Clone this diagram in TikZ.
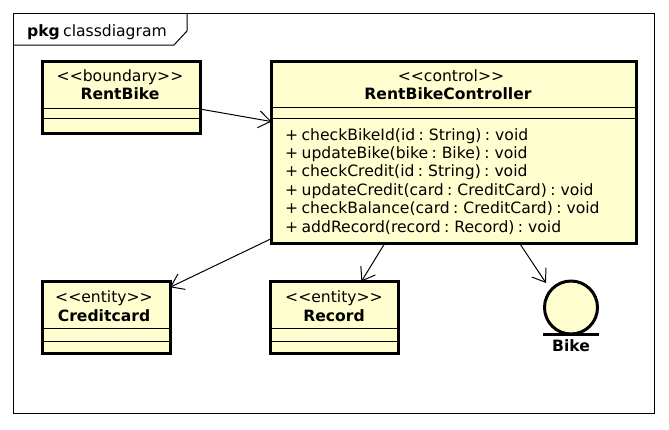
\documentclass[tikz,border=0pt]{standalone}
\usepackage{fontspec}
\setmainfont[WordSpace=0.68]{DejaVu Sans}
\usetikzlibrary{arrows.meta,calc}
\definecolor{boxfill}{HTML}{FEFECE}
\tikzset{
  x=1pt,y=-1pt,
  umlbox/.style={draw=black,fill=boxfill,line width=3pt,rectangle,inner sep=0pt,outer sep=0pt,anchor=north west},
  sep/.style={draw=black,line width=1pt},
  arr/.style={draw=black,line width=1pt,-{Straight Barb[length=12pt,width=17pt,line width=1pt]},shorten >=0pt},
  txt/.style={font=\fontsize{15.6}{18}\selectfont,anchor=base,inner sep=0pt,text=black},
  txtb/.style={font=\fontsize{15.6}{18}\selectfont\bfseries,anchor=base,inner sep=0pt,text=black},
  meth/.style={font=\fontsize{15.6}{18}\selectfont,anchor=base west,inner sep=0pt,text=black},
}
\begin{document}
\begin{tikzpicture}
\useasboundingbox (0,0) rectangle (669,429);
\fill[white] (0,0) rectangle (669,429);
% frame
\draw[black,line width=1pt] (13.5,13.5) rectangle (654,413);
\draw[black,line width=1pt] (13.5,45) -- (174,45) -- (187,31) -- (187,13.5);
\node[txtb,anchor=base west] (pkg) at (27,36) {pkg};
\node[txt,anchor=base west] (cdname) at (63,36) {classdiagram};
% boxes
\node[umlbox,minimum width=158pt,minimum height=72pt] (rb) at (42,61.5) {};
\draw[sep] (rb.west |- 0,108) -- (rb.east |- 0,108);
\draw[sep] (rb.west |- 0,118.5) -- (rb.east |- 0,118.5);
\node[txt] (rbs) at (120,81) {<{}<boundary>{}>};
\node[txtb] (rbn) at (120,99) {RentBike};

\node[umlbox,minimum width=365pt,minimum height=182pt] (ctl) at (271.5,61.5) {};
\draw[sep] (ctl.west |- 0,107.5) -- (ctl.east |- 0,107.5);
\draw[sep] (ctl.west |- 0,118.5) -- (ctl.east |- 0,118.5);
\node[txt] (ctls) at (451,81) {<{}<control>{}>};
\node[txtb] (ctln) at (448,99) {RentBikeController};
\node[meth] (m1) at (285,140) {+ checkBikeId(id : String) : void};
\node[meth] (m2) at (285,158.5) {+ updateBike(bike : Bike) : void};
\node[meth] (m3) at (285,176.8) {+ checkCredit(id : String) : void};
\node[meth] (m4) at (285,195.2) {+ updateCredit(card : CreditCard) : void};
\node[meth] (m5) at (285,213.5) {+ checkBalance(card : CreditCard) : void};
\node[meth] (m6) at (285,232) {+ addRecord(record : Record) : void};

\node[umlbox,minimum width=128pt,minimum height=72pt] (cc) at (42,281.5) {};
\draw[sep] (cc.west |- 0,328) -- (cc.east |- 0,328);
\draw[sep] (cc.west |- 0,341) -- (cc.east |- 0,341);
\node[txt] (ccs) at (104,302) {<{}<entity>{}>};
\node[txtb] (ccn) at (104,321) {Creditcard};

\node[umlbox,minimum width=128pt,minimum height=72pt] (rec) at (270.5,281.5) {};
\draw[sep] (rec.west |- 0,328) -- (rec.east |- 0,328);
\draw[sep] (rec.west |- 0,341) -- (rec.east |- 0,341);
\node[txt] (recs) at (334,302) {<{}<entity>{}>};
\node[txtb] (recn) at (334,321) {Record};

% entity circle
\node[draw=black,fill=boxfill,line width=3pt,circle,inner sep=0pt,outer sep=0pt,minimum size=53pt] (bike) at (571,307.5) {};
\draw[black,line width=3pt] (543,334) -- (599,334);
\node[txtb] (biken) at (571,351) {Bike};
\coordinate (biketip) at (546,283);

% connectors
\draw[arr] ($(rb.north east)!0.66!(rb.south east)$) -- ($(ctl.north west)!0.33!(ctl.south west)$);
\draw[arr] ($(ctl.north west)!0.973!(ctl.south west)$) -- ($(cc.north east)!0.08!(cc.south east)$);
\draw[arr] ($(ctl.south west)!0.31!(ctl.south east)$) -- ($(rec.north west)!0.71!(rec.north east)$);
\draw[arr] ($(ctl.south west)!0.68!(ctl.south east)$) -- (biketip);
\end{tikzpicture}
\end{document}
